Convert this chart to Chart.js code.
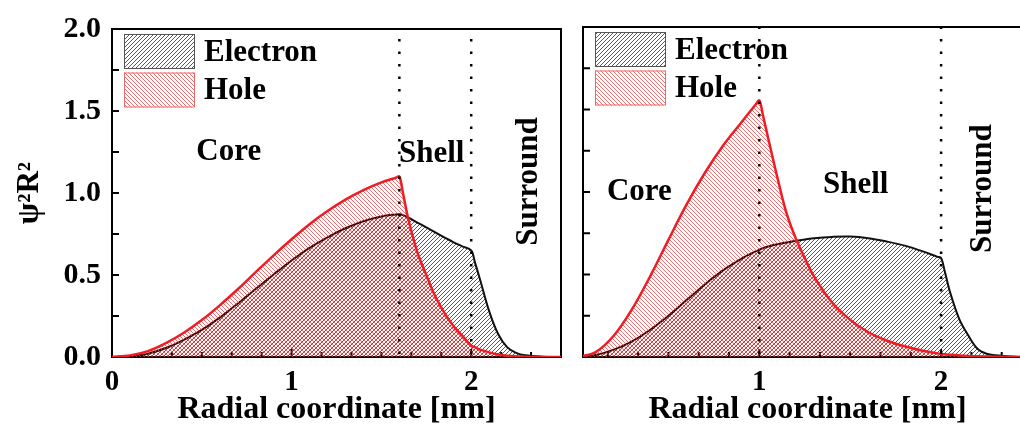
<!DOCTYPE html>
<html>
<head>
<meta charset="utf-8">
<script src="https://cdn.jsdelivr.net/npm/chart.js@4.4.0/dist/chart.umd.min.js"></script>
<style>
  html, body { margin: 0; padding: 0; background: #fff; overflow: hidden; }
  body { width: 1020px; height: 427px; position: relative; }
  .panel { position: absolute; top: 0; }
  #left { left: 0; }
  #right { left: 570px; }
</style>
</head>
<body>
<div class="panel" id="left"><canvas id="chartLeft" width="566" height="427"></canvas></div>
<div class="panel" id="right"><canvas id="chartRight" width="470" height="427"></canvas></div>
<script>
// ---- data ----
const seriesNames = ['Electron', 'Hole'];

// left panel: core radius 1.6 nm, shell to 2.0 nm
const leftR = [0, 0.1, 0.2, 0.3, 0.4, 0.5, 0.6, 0.7, 0.8, 0.9, 1.0, 1.1, 1.2, 1.3, 1.4, 1.5, 1.58, 1.6, 1.62, 1.65,
  1.7, 1.75, 1.8, 1.85, 1.9, 1.95, 2.0, 2.02, 2.05, 2.1, 2.15, 2.2, 2.25, 2.3, 2.4, 2.5];
const leftElectron = [0, 0.005, 0.02, 0.055, 0.105, 0.165, 0.24, 0.325, 0.415, 0.503, 0.588, 0.665, 0.73, 0.785, 0.828, 0.857, 0.869, 0.87, 0.865, 0.85,
  0.82, 0.79, 0.76, 0.73, 0.70, 0.675, 0.65, 0.58, 0.47, 0.28, 0.14, 0.06, 0.025, 0.01, 0.002, 0];
const leftHole = [0, 0.01, 0.036, 0.085, 0.148, 0.225, 0.315, 0.413, 0.517, 0.62, 0.718, 0.81, 0.89, 0.96, 1.018, 1.065, 1.093, 1.10, 1.0, 0.84,
  0.64, 0.50, 0.37, 0.27, 0.19, 0.13, 0.07, 0.06, 0.045, 0.028, 0.015, 0.008, 0.004, 0.002, 0, 0];

// right panel: core radius 1.0 nm, shell to 2.0 nm
const rightR = [0, 0.1, 0.2, 0.3, 0.4, 0.5, 0.6, 0.7, 0.8, 0.9, 0.98, 1.0, 1.02, 1.05, 1.1, 1.15, 1.2, 1.25, 1.3, 1.4,
  1.5, 1.6, 1.7, 1.8, 1.9, 1.98, 2.0, 2.02, 2.05, 2.1, 2.15, 2.2, 2.25, 2.3, 2.4, 2.5];
const rightElectron = [0, 0.012, 0.045, 0.095, 0.165, 0.25, 0.345, 0.44, 0.525, 0.595, 0.64, 0.65, 0.66, 0.67, 0.683, 0.694, 0.704, 0.712, 0.72, 0.728,
  0.73, 0.72, 0.70, 0.675, 0.64, 0.607, 0.60, 0.52, 0.39, 0.23, 0.13, 0.05, 0.02, 0.01, 0.002, 0];
const rightHole = [0, 0.03, 0.13, 0.29, 0.49, 0.71, 0.925, 1.115, 1.28, 1.42, 1.53, 1.555, 1.465, 1.32, 1.085, 0.87, 0.72, 0.6, 0.49, 0.33,
  0.225, 0.15, 0.1, 0.065, 0.038, 0.022, 0.018, 0.016, 0.013, 0.009, 0.006, 0.004, 0.003, 0.002, 0.001, 0];

const yTicks = [0, 0.5, 1.0, 1.5, 2.0];
const leftXTicks = [0, 1, 2];
const rightXTicks = [1, 2];
const leftBounds = [1.6, 2.0];
const rightBounds = [1.0, 2.0];
const regionNames = ['Core', 'Shell', 'Surround'];

// ---- look ----
const FONT = "'Liberation Serif', 'Times New Roman', serif";
Chart.defaults.font.family = FONT;
Chart.defaults.color = '#000';

function hatch(color, back, width) {
  const s = 4;
  const c = document.createElement('canvas');
  c.width = s; c.height = s;
  const g = c.getContext('2d');
  g.strokeStyle = color;
  g.lineWidth = width;
  g.beginPath();
  if (back) {
    g.moveTo(-1, -1); g.lineTo(s + 1, s + 1);
    g.moveTo(s - 1, -1); g.lineTo(s + 1, 1);
    g.moveTo(-1, s - 1); g.lineTo(1, s + 1);
  } else {
    g.moveTo(-1, s + 1); g.lineTo(s + 1, -1);
    g.moveTo(-1, 1); g.lineTo(1, -1);
    g.moveTo(s - 1, s + 1); g.lineTo(s + 1, s - 1);
  }
  g.stroke();
  return g.createPattern(c, 'repeat');
}

// region labels, placed in data units
const leftLabels = [
  { text: regionNames[0], x: 0.65, y: 1.25 },
  { text: regionNames[1], x: 1.78, y: 1.24 },
  { text: regionNames[2], x: 2.32, y: 1.07, rotate: true }
];
const rightLabels = [
  { text: regionNames[0], x: 0.34, y: 1.0 },
  { text: regionNames[1], x: 1.53, y: 1.04 },
  { text: regionNames[2], x: 2.23, y: 1.02, rotate: true }
];

const frame = {
  id: 'frame',
  beforeDatasetsDraw(chart) {
    const { ctx, chartArea: a, scales: { x, y } } = chart;
    ctx.save();
    ctx.strokeStyle = '#000';
    ctx.lineWidth = 2;
    ctx.beginPath();
    // inward ticks on the left axis every 0.25
    for (let k = 0; k <= 8; k++) {
      const py = y.getPixelForValue(k * 0.25);
      ctx.moveTo(a.left, py); ctx.lineTo(a.left + 7, py);
    }
    // inward ticks on the bottom axis, 5 minor between majors
    for (let k = Math.ceil(x.min * 6); k <= Math.floor(x.max * 6); k++) {
      const px = x.getPixelForValue(k / 6);
      ctx.moveTo(px, a.bottom); ctx.lineTo(px, a.bottom - (k % 6 === 0 ? 8 : 5));
    }
    ctx.stroke();
    ctx.strokeRect(a.left, a.top, a.right - a.left, a.bottom - a.top);
    ctx.restore();
  },
  afterDatasetsDraw(chart, args, opts) {
    const { ctx, chartArea: a, scales: { x, y } } = chart;
    ctx.save();
    // dotted boundaries
    ctx.strokeStyle = '#000';
    ctx.lineWidth = 2.5;
    ctx.setLineDash([2.5, 10]);
    opts.bounds.forEach(v => {
      const px = x.getPixelForValue(v);
      ctx.beginPath(); ctx.moveTo(px, a.bottom - 3); ctx.lineTo(px, a.top); ctx.stroke();
    });
    ctx.setLineDash([]);

    // region names
    ctx.fillStyle = '#000';
    ctx.font = 'bold 31px ' + FONT;
    ctx.textAlign = 'center';
    ctx.textBaseline = 'middle';
    opts.labels.forEach(l => {
      const px = x.getPixelForValue(l.x), py = y.getPixelForValue(l.y);
      if (l.rotate) {
        ctx.save(); ctx.translate(px, py); ctx.rotate(-Math.PI / 2);
        ctx.fillText(l.text, 0, 0); ctx.restore();
      } else {
        ctx.fillText(l.text, px, py);
      }
    });

    // legend in the top-left corner
    const lx = a.left + 12, bw = 71, bh = 35;
    ctx.textAlign = 'left';
    chart.data.datasets.forEach((ds, i) => {
      const top = a.top + 5 + i * 38.5;
      ctx.fillStyle = '#fff';
      ctx.fillRect(lx, top, bw, bh);
      ctx.fillStyle = ds.backgroundColor;
      ctx.fillRect(lx, top, bw, bh);
      ctx.strokeStyle = ds.edgeColor;
      ctx.lineWidth = 1;
      ctx.strokeRect(lx + 0.5, top + 0.5, bw - 1, bh - 1);
      ctx.fillStyle = '#000';
      ctx.fillText(ds.label, lx + bw + 9, top + bh / 2 + 1);
    });
    ctx.restore();
  }
};

function datasets(r, e, h) {
  return [
    {
      label: seriesNames[0], order: 1,
      data: r.map((v, i) => ({ x: v, y: e[i] })),
      borderColor: '#111', borderWidth: 2,
      backgroundColor: hatch('rgba(50,50,50,0.8)', false, 1),
      edgeColor: '#555',
      fill: 'origin', pointRadius: 0, tension: 0.35
    },
    {
      label: seriesNames[1], order: 0,
      data: r.map((v, i) => ({ x: v, y: h[i] })),
      borderColor: '#ee1c24', borderWidth: 2.5,
      backgroundColor: hatch('rgba(225,55,55,0.7)', true, 1),
      edgeColor: '#e86a6a',
      fill: 'origin', pointRadius: 0, tension: 0.35
    }
  ];
}

function makeChart(id, r, e, h, opt) {
  return new Chart(document.getElementById(id), {
    type: 'line',
    data: { datasets: datasets(r, e, h) },
    plugins: [frame],
    options: {
      responsive: false,
      animation: false,
      layout: { padding: { left: 0, right: opt.padRight, top: 27, bottom: 0 } },
      plugins: {
        legend: { display: false },
        tooltip: { enabled: false },
        frame: { bounds: opt.bounds, labels: opt.labels }
      },
      scales: {
        x: {
          type: 'linear', min: opt.xMin, max: 2.5,
          afterBuildTicks: s => { s.ticks = opt.xTicks.map(v => ({ value: v })); },
          afterFit: s => { s.height = 70; },
          grid: { display: false, drawTicks: false },
          border: { display: false },
          ticks: { font: { size: 29, weight: 'bold' }, padding: 8, color: '#000', maxRotation: 0, callback: v => String(v) },
          title: { display: true, text: 'Radial coordinate [nm]', font: { size: 32, weight: 'bold' }, color: '#000', padding: { top: 0, bottom: -2 } }
        },
        y: {
          min: 0, max: 2,
          afterBuildTicks: s => { s.ticks = yTicks.map(v => ({ value: v })); },
          afterFit: s => { s.width = opt.yWidth; },
          grid: { display: false, drawTicks: false },
          border: { display: false },
          ticks: { display: opt.yLabels, font: { size: 30, weight: 'bold' }, padding: 11, color: '#000', callback: v => v.toFixed(1) },
          title: { display: opt.yLabels, text: 'ψ²R²', font: { size: 31, weight: 'bold' }, color: '#000', padding: { top: 11, bottom: 0 } }
        }
      }
    }
  });
}

makeChart('chartLeft', leftR, leftElectron, leftHole, {
  xMin: 0, xTicks: leftXTicks, bounds: leftBounds, labels: leftLabels, yWidth: 112, yLabels: true, padRight: 5
});
makeChart('chartRight', rightR, rightElectron, rightHole, {
  xMin: 0.03, xTicks: rightXTicks, bounds: rightBounds, labels: rightLabels, yWidth: 13, yLabels: false, padRight: 8
});
</script>
</body>
</html>
